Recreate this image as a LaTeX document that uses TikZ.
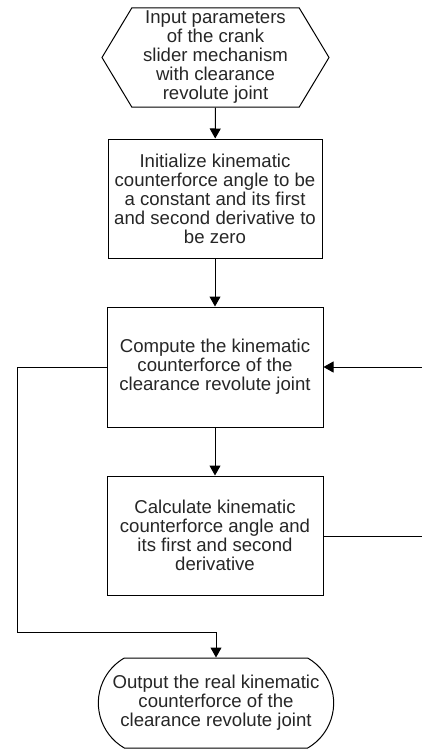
\documentclass[tikz,border=0pt]{standalone}
\usepackage{fontspec}
\setmainfont{Liberation Sans}
\usetikzlibrary{arrows.meta}
\usetikzlibrary{shapes.symbols,shapes.misc}

\begin{document}
\begin{tikzpicture}[x=1pt,y=-1pt,%
  every node/.style={align=center,font=\fontsize{18.6}{19}\selectfont,text=black!85},
  stepbox/.style={draw,rectangle,minimum width=216pt,minimum height=120pt,line width=1pt},
  inbox/.style={draw,signal,signal to=west and east,signal pointer angle=118,minimum width=227pt,minimum height=99pt,line width=1pt},
  endbox/.style={draw,rounded rectangle,rounded rectangle arc length=120,minimum width=242pt,minimum height=90pt,line width=1pt},
  line/.style={draw,line width=1pt},
  arrow/.style={line,-{Triangle[length=10pt,width=11pt]}}]
  \useasboundingbox (0,0) rectangle (422,749);
  % the boxes
  \node[inbox] (input) at (215.5,57.5) {Input parameters\\of the crank\\slider mechanism\\with clearance\\revolute joint};
  \node[stepbox,minimum width=214pt,minimum height=119pt] (init) at (215,198.5) {Initialize kinematic\\counterforce angle to be\\a constant and its first\\and second derivative to\\be zero};
  \node[stepbox] (compute) at (215,367) {Compute the kinematic\\counterforce of the\\clearance revolute joint};
  \node[stepbox,minimum height=119pt] (angle) at (215,535.5) {Calculate kinematic\\counterforce angle and\\its first and second\\derivative};
  \node[endbox] (output) at (216,703) {Output the real kinematic\\counterforce of the\\clearance revolute joint};
  % free ends of the loops
  \coordinate (back) at (422,367);
  \coordinate (away) at (422,536);
  \coordinate (loop) at (17,632);
  % the edges
  \draw[arrow] (input) -- (init);
  \draw[arrow] (init) -- (compute);
  \draw[arrow] (compute) -- (angle);
  \draw[arrow] (back) -- (compute);
  \draw[line] (angle.east |- away) -- (away);
  \draw[arrow] (compute.west) -| (loop) -| (output.north);
\end{tikzpicture}
\end{document}
